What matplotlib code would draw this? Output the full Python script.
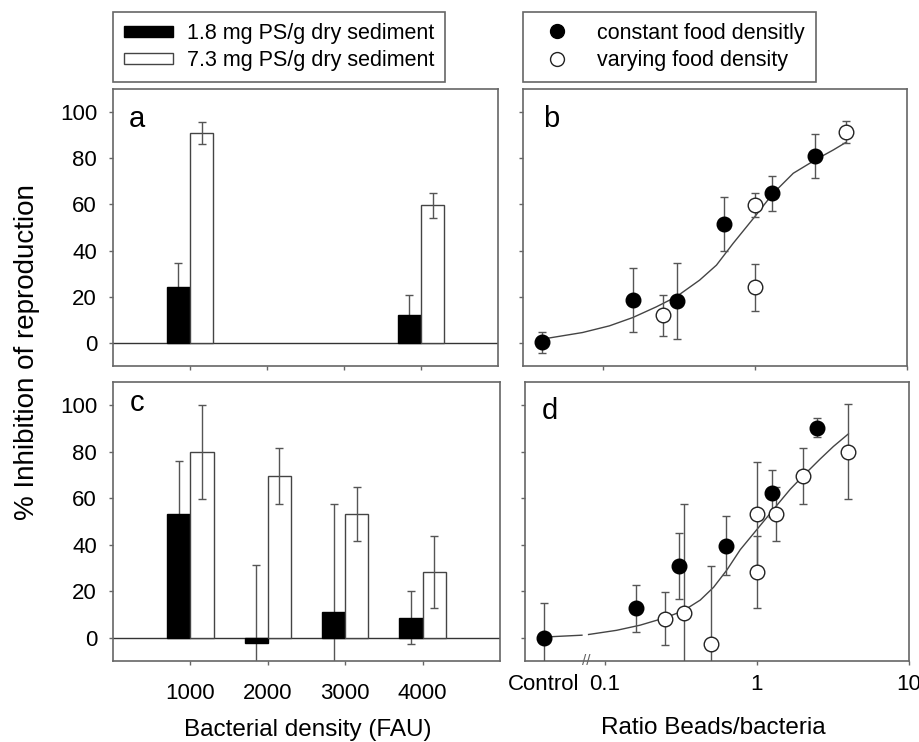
import numpy as np
import matplotlib
matplotlib.use("Agg")
import matplotlib.pyplot as plt
from matplotlib.patches import Patch
from matplotlib.lines import Line2D
import matplotlib.transforms as mtransforms

plt.rcParams['font.family'] = ['Liberation Sans', 'DejaVu Sans']

# ---------------- data ----------------
density_a = [1000, 4000]
a_low = [24.2, 11.9]
a_low_err = [10.3, 8.9]
a_high = [90.9, 59.6]
a_high_err = [4.9, 5.5]

density_c = [1000, 2000, 3000, 4000]
c_low = [53.4, -2.3, 10.9, 8.6]
c_low_err = [22.5, 33.4, 46.5, 11.5]
c_high = [79.9, 69.6, 53.4, 28.2]
c_high_err = [20.3, 12.2, 11.6, 15.5]

b_const_x = [0.04, 0.158, 0.309, 0.63, 1.29, 2.5]
b_const_y = [0.2, 18.5, 18.2, 51.5, 64.8, 81.0]
b_const_err = [4.5, 13.8, 16.3, 11.6, 7.7, 9.7]
b_vary_x = [0.248, 1.0, 1.0, 4.0]
b_vary_y = [11.9, 59.8, 24.2, 91.2]
b_vary_err = [9.0, 5.3, 10.2, 4.8]
b_curve_x = [0.0424, 0.0738, 0.111, 0.158, 0.225, 0.305, 0.434, 0.56, 0.72,
             1.0, 1.32, 1.79, 2.5, 3.28, 4.0]
b_curve_y = [1.9, 4.5, 7.4, 11.0, 15.6, 20.0, 27.2, 33.7, 43.1,
             54.7, 64.8, 73.5, 79.3, 83.6, 87.0]

d_const_x = [0.04, 0.16, 0.31, 0.63, 1.26, 2.5]
d_const_y = [0.0, 12.6, 30.9, 39.6, 62.1, 90.4]
d_const_err = [15.0, 10.2, 14.2, 12.6, 10.0, 4.0]
d_vary_x = [0.25, 0.33, 0.5, 1.0, 1.0, 1.34, 2.0, 4.0]
d_vary_y = [8.2, 10.7, -2.5, 53.2, 28.2, 53.2, 69.6, 80.0]
d_vary_err = [11.5, 47.0, 33.5, 22.6, 15.6, 11.5, 12.2, 20.4]
d_curve1_x = [0.04, 0.071]
d_curve1_y = [0.3, 1.1]
d_curve2_x = [0.0785, 0.12, 0.171, 0.25, 0.329, 0.425, 0.52, 0.637, 0.779,
              1.0, 1.34, 1.66, 2.0, 2.6, 3.19, 4.0]
d_curve2_y = [1.4, 3.2, 5.4, 8.6, 11.6, 16.2, 21.7, 29.2, 37.9,
              46.5, 56.6, 63.9, 69.4, 76.8, 82.3, 87.7]

ratio_ticks = [0.04, 0.1, 1, 10]
ratio_ticklabels = ['Control', '0.1', '1', '10']
y_ticks = [0, 20, 40, 60, 80, 100]
break_x = 0.0755

# ---------------- figure ----------------
W, H = 920, 742
fig = plt.figure(figsize=(W / 100, H / 100), dpi=100)

def px_axes(l, t, r, b):
    return fig.add_axes([l / W, 1 - b / H, (r - l) / W, (b - t) / H])

ax_a = px_axes(113, 89, 498, 366)
ax_b = px_axes(523, 89, 907, 366)
ax_c = px_axes(113, 382, 500, 661)
ax_d = px_axes(525, 382, 909, 661)

spine_col = '#666666'
err_col = '#555555'
tick_fs = 16

for ax in (ax_a, ax_b, ax_c, ax_d):
    for s in ax.spines.values():
        s.set_color(spine_col)
        s.set_linewidth(1.2)
    ax.set_ylim(-10, 110)
    ax.set_yticks(y_ticks)
    ax.tick_params(direction='out', length=3, width=1, color=spine_col,
                   labelsize=tick_fs, labelcolor='black')
    ax.tick_params(axis='y', pad=8.5)
    ax.tick_params(top=False, right=False)

# ----- bar panels -----
def bar_panel(ax, dens, low, low_err, high, high_err, show_labels):
    dens = np.asarray(dens, dtype=float)
    ax.bar(dens - 150, low, width=300, color='black', edgecolor='black',
           linewidth=1, zorder=2)
    ax.bar(dens + 150, high, width=300, color='white', edgecolor='#444444',
           linewidth=1, zorder=2)
    ax.errorbar(dens - 150, low, yerr=low_err, fmt='none', ecolor=err_col,
                elinewidth=1, capsize=3, capthick=1, zorder=1.5)
    ax.errorbar(dens + 150, high, yerr=high_err, fmt='none', ecolor=err_col,
                elinewidth=1, capsize=3, capthick=1, zorder=3)
    ax.axhline(0, color='#333333', lw=1, zorder=1)
    ax.set_xlim(0, 5000)
    ax.set_xticks(density_c)
    if show_labels:
        ax.set_xticklabels([str(d) for d in density_c])
        ax.tick_params(axis='x', pad=13)
    else:
        ax.set_xticklabels([])

bar_panel(ax_a, density_a, a_low, a_low_err, a_high, a_high_err, False)
bar_panel(ax_c, density_c, c_low, c_low_err, c_high, c_high_err, True)

# ----- scatter panels -----
def scat_panel(ax, cx, cy, ce, vx, vy, ve, curves, show_labels):
    for (xs, ys) in curves:
        ax.plot(xs, ys, color='#444444', lw=1, zorder=2)
    ax.errorbar(cx, cy, yerr=ce, fmt='none', ecolor=err_col, elinewidth=1,
                capsize=3, capthick=1, zorder=3)
    ax.errorbar(vx, vy, yerr=ve, fmt='none', ecolor=err_col, elinewidth=1,
                capsize=3, capthick=1, zorder=3)
    ax.plot(cx, cy, 'o', ms=10.5, mfc='black', mec='black', ls='none', zorder=4)
    ax.plot(vx, vy, 'o', ms=10.5, mfc='white', mec='#222222', mew=1,
            ls='none', zorder=4)
    ax.set_xscale('log')
    ax.set_xlim(0.03, 10)
    ax.xaxis.set_minor_locator(matplotlib.ticker.NullLocator())
    ax.tick_params(axis='y', labelleft=False)
    if show_labels:
        ax.set_xticks(ratio_ticks)
        ax.set_xticklabels(ratio_ticklabels)
        ax.xaxis.get_major_ticks()[0].tick1line.set_visible(False)
        ax.tick_params(axis='x', pad=6)
    else:
        ax.set_xticks(ratio_ticks[1:])
        ax.set_xticklabels([])

scat_panel(ax_b, b_const_x, b_const_y, b_const_err, b_vary_x, b_vary_y,
           b_vary_err, [(b_curve_x, b_curve_y)], False)
scat_panel(ax_d, d_const_x, d_const_y, d_const_err, d_vary_x, d_vary_y,
           d_vary_err, [(d_curve1_x, d_curve1_y), (d_curve2_x, d_curve2_y)],
           True)

# axis break marks on panel d
trans = mtransforms.blended_transform_factory(ax_d.transData, ax_d.transAxes)
ax_d.text(break_x, 0.0, '//', transform=trans, ha='center', va='center',
          fontsize=11, color=spine_col, clip_on=False)

# panel letters
letter_fs = 21
ax_a.text(0.042, 0.864, 'a', transform=ax_a.transAxes, fontsize=letter_fs,
          va='baseline')
ax_b.text(0.051, 0.864, 'b', transform=ax_b.transAxes, fontsize=letter_fs,
          va='baseline')
ax_c.text(0.042, 0.895, 'c', transform=ax_c.transAxes, fontsize=letter_fs,
          va='baseline')
ax_d.text(0.043, 0.866, 'd', transform=ax_d.transAxes, fontsize=letter_fs,
          va='baseline')

# axis labels
fig.text(27 / W, 1 - 352 / H, '% Inhibition of reproduction', rotation=90,
         ha='center', va='center', fontsize=20)
fig.text(308 / W, 1 - 736 / H, 'Bacterial density (FAU)', ha='center',
         va='baseline', fontsize=17.5)
fig.text(713 / W, 1 - 734 / H, 'Ratio Beads/bacteria', ha='center',
         va='baseline', fontsize=17.5)

# legends
leg_fs = 15.5
h1 = [Patch(facecolor='black', edgecolor='black'),
      Patch(facecolor='white', edgecolor='#444444')]
leg1 = fig.legend(h1, ['1.8 mg PS/g dry sediment', '7.3 mg PS/g dry sediment'],
                  loc='upper left', bbox_to_anchor=(113 / W, 1 - 12 / H),
                  borderaxespad=0, fontsize=leg_fs, handlelength=2.3,
                  handleheight=0.4, handletextpad=0.65, labelspacing=0.3,
                  borderpad=0.5, fancybox=False, framealpha=1,
                  edgecolor=spine_col)
leg1.get_frame().set_linewidth(1.2)

h2 = [Line2D([], [], marker='o', ls='none', mfc='black', mec='black', ms=10),
      Line2D([], [], marker='o', ls='none', mfc='white', mec='#222222', ms=10)]
leg2 = fig.legend(h2, ['constant food densitly', 'varying food density'],
                  loc='upper left', bbox_to_anchor=(523 / W, 1 - 12 / H),
                  borderaxespad=0, fontsize=leg_fs, handlelength=2.2,
                  handletextpad=0.75, labelspacing=0.3, borderpad=0.5,
                  fancybox=False, framealpha=1, edgecolor=spine_col,
                  numpoints=1)
leg2.get_frame().set_linewidth(1.2)

fig.savefig('out.png', dpi=100)
